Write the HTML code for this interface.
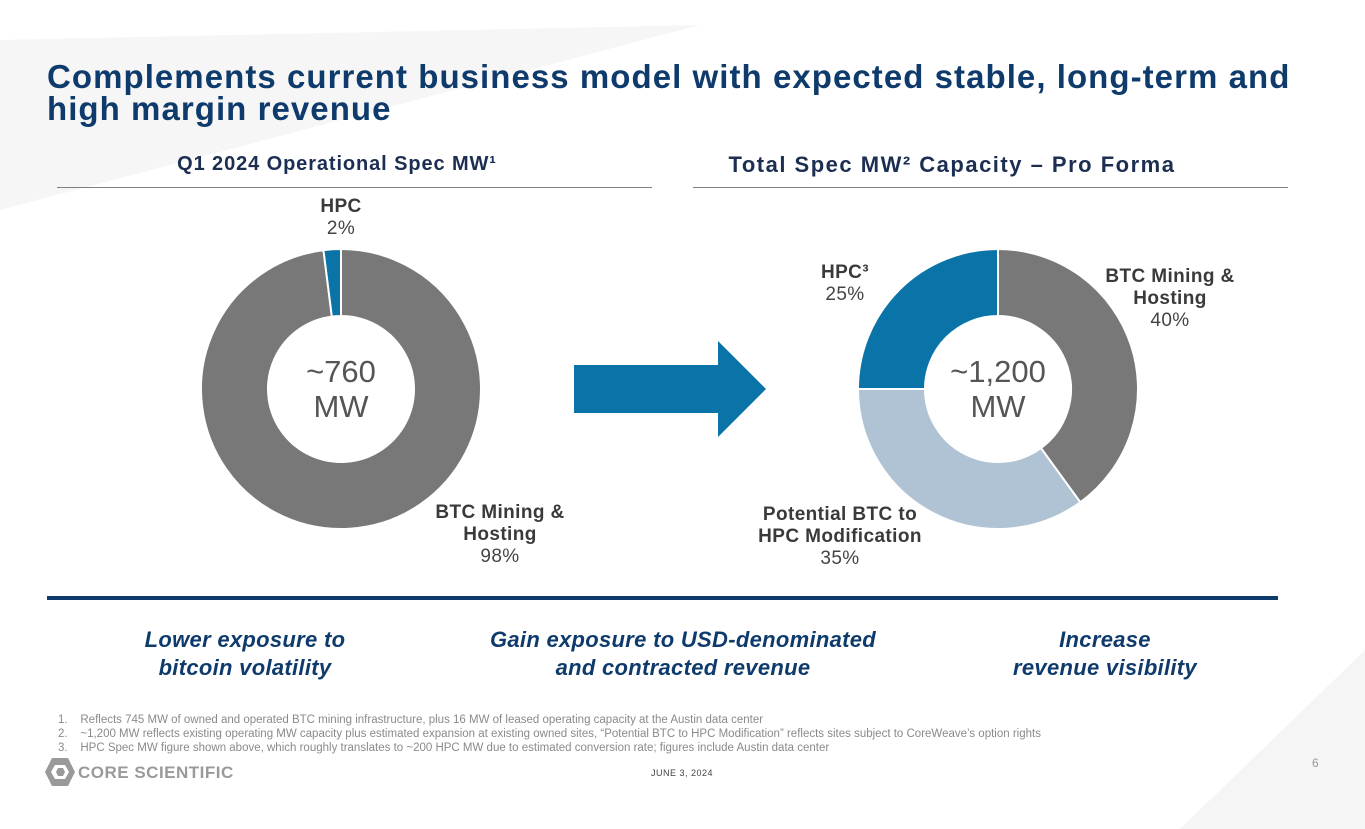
<!DOCTYPE html>
<html><head><meta charset="utf-8">
<style>
body{margin:0;width:1365px;height:829px;overflow:hidden;background:#fff;font-family:"Liberation Sans",Arial,sans-serif;position:relative}
.a{position:absolute}
.title{left:47px;top:61px;font-size:33px;font-weight:bold;color:#0f3b6c;line-height:32px;letter-spacing:1.05px;white-space:nowrap}
.hdr{font-size:20px;font-weight:bold;color:#1c2f52;text-align:center;top:153px;white-space:nowrap}
.rule{height:1px;background:#7f7f7f;top:187px}
.lbl{font-size:19px;color:#444;text-align:center;line-height:22px;letter-spacing:0.4px}
.lbl b{color:#3a3a3a}
.bot{font-size:22px;font-weight:bold;font-style:italic;color:#0f3b6c;text-align:center;line-height:28px;top:626px;letter-spacing:0.3px}
.fn{left:58px;font-size:11.5px;color:#8a8a8a;line-height:14px;top:713px}
</style></head><body>
<svg class="a" style="left:0;top:0" width="1365" height="829">
<polygon points="0,40 700,25 0,210" fill="#f6f6f6"/>
<polygon points="1365,650 1365,829 1180,829" fill="#f5f5f5"/>
</svg>
<div class="a title">Complements current business model with expected stable, long-term and<br>high margin revenue</div>
<div class="a hdr" style="left:37px;width:600px;letter-spacing:0.9px">Q1 2024 Operational Spec MW¹</div>
<div class="a hdr" style="left:652px;width:600px;font-size:22px;letter-spacing:1.5px;top:152px">Total Spec MW² Capacity – Pro Forma</div>
<div class="a rule" style="left:57px;width:595px"></div>
<div class="a rule" style="left:693px;width:595px"></div>

<svg id="chart" class="a" style="left:0;top:0" width="1365" height="600">
<polygon points="574,365 718,365 718,341 766,389 718,437 718,413 574,413" fill="#0a73a8"/>
</svg>

<div class="a lbl" style="left:291px;top:196px;width:100px"><b>HPC</b><br>2%</div>
<div class="a lbl" style="left:410px;top:502px;width:180px"><b>BTC Mining &amp;<br>Hosting</b><br>98%</div>
<div class="a lbl" style="left:795px;top:262px;width:100px"><b>HPC³</b><br>25%</div>
<div class="a lbl" style="left:1080px;top:266px;width:180px"><b>BTC Mining &amp;<br>Hosting</b><br>40%</div>
<div class="a lbl" style="left:720px;top:504px;width:240px"><b>Potential BTC to<br>HPC Modification</b><br>35%</div>
<div class="a" style="left:271px;top:354px;width:140px;text-align:center;font-size:31px;color:#555;line-height:35px">~760<br>MW</div>
<div class="a" style="left:928px;top:354px;width:140px;text-align:center;font-size:31px;color:#555;line-height:35px">~1,200<br>MW</div>

<div class="a" style="left:47px;top:596px;width:1231px;height:4px;background:#0f3b6c"></div>
<div class="a bot" style="left:85px;width:320px">Lower exposure to<br>bitcoin volatility</div>
<div class="a bot" style="left:433px;width:500px">Gain exposure to USD-denominated<br>and contracted revenue</div>
<div class="a bot" style="left:965px;width:280px">Increase<br>revenue visibility</div>

<div class="a fn">
1.&nbsp;&nbsp;&nbsp;&nbsp;Reflects 745 MW of owned and operated BTC mining infrastructure, plus 16 MW of leased operating capacity at the Austin data center<br>
2.&nbsp;&nbsp;&nbsp;&nbsp;~1,200 MW reflects existing operating MW capacity plus estimated expansion at existing owned sites, “Potential BTC to HPC Modification” reflects sites subject to CoreWeave’s option rights<br>
3.&nbsp;&nbsp;&nbsp;&nbsp;HPC Spec MW figure shown above, which roughly translates to ~200 HPC MW due to estimated conversion rate; figures include Austin data center</div>
<svg class="a" style="left:44px;top:757px" width="32" height="30"><polygon points="8,1 24,1 31,15 24,29 8,29 1,15" fill="#9a9a9a"/><polygon points="11,8 21,8 25,15 21,22 11,22 7,15" fill="#fff"/><polygon points="14,11 19,11 21,15 19,19 14,19 12,15" fill="#9a9a9a"/></svg>
<div class="a" style="left:78px;top:763px;font-size:17px;font-weight:bold;color:#9a9a9a;letter-spacing:0.5px">CORE SCIENTIFIC</div>
<div class="a" style="left:651px;top:768px;font-size:9px;color:#444;letter-spacing:0.5px">JUNE 3, 2024</div>
<div class="a" style="left:1312px;top:756px;font-size:12px;color:#999">6</div>

<script>
const leftCats=["BTC Mining & Hosting","HPC"];
const leftVals=[98,2];
const rightCats=["BTC Mining & Hosting","Potential BTC to HPC Modification","HPC"];
const rightVals=[40,35,25];
const leftColors=["#787878","#0a73a8"];
const rightColors=["#787878","#b0c3d4","#0a73a8"];
const svg=document.getElementById('chart');
const NS="http://www.w3.org/2000/svg";
function arc(cx,cy,R,r,a0,a1){
  const p=(rad,a)=>[cx+rad*Math.sin(a),cy-rad*Math.cos(a)];
  const lg=(a1-a0)>Math.PI?1:0;
  const [x0,y0]=p(R,a0),[x1,y1]=p(R,a1),[x2,y2]=p(r,a1),[x3,y3]=p(r,a0);
  return `M${x0},${y0}A${R},${R} 0 ${lg} 1 ${x1},${y1}L${x2},${y2}A${r},${r} 0 ${lg} 0 ${x3},${y3}Z`;
}
function donut(cx,cy,vals,cats,colors,prefix){
  const tot=vals.reduce((a,b)=>a+b,0);let a=0;
  vals.forEach((v,i)=>{
    const a1=a+v/tot*2*Math.PI;
    const path=document.createElementNS(NS,'path');
    path.setAttribute('d',arc(cx,cy,140,73,a,a1));
    path.setAttribute('fill',colors[i]);
    path.setAttribute('stroke','#fff');
    path.setAttribute('stroke-width','2');
    
    
    svg.appendChild(path);a=a1;
  });
}
donut(341,389,leftVals,leftCats,leftColors,'left');
donut(998,389,rightVals,rightCats,rightColors,'right');
</script>
</body></html>
